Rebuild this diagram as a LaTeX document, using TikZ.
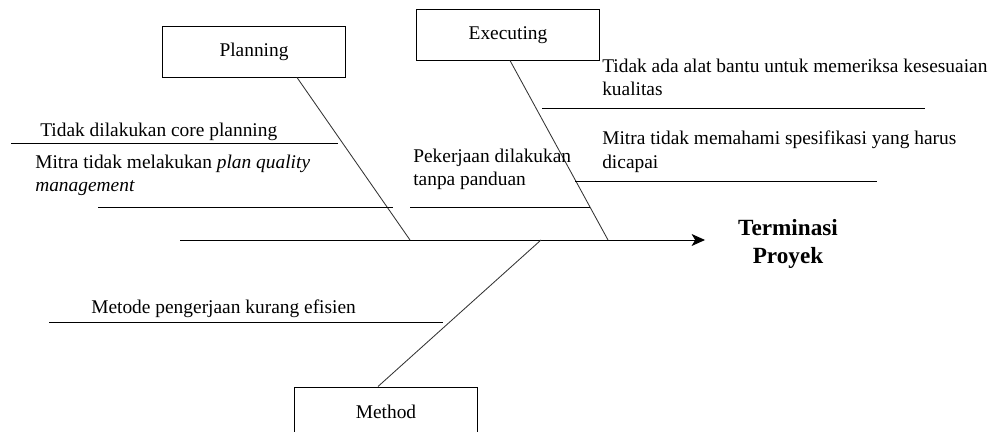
\documentclass[tikz,border=0pt]{standalone}
\usepackage{fontspec}
\setmainfont{Liberation Serif}
\usetikzlibrary{arrows.meta, calc}

\newcommand{\causefont}{\fontsize{13.8}{16.4}\selectfont}
\newcommand{\effectfont}{\fontsize{16.5}{19.9}\selectfont\bfseries}

\tikzset{
  catbox/.style={draw, line width=0.7pt, minimum width=4.55cm, minimum height=1.25cm, inner sep=0pt, font=\causefont},
  causetext/.style={anchor=north west, inner sep=0pt, align=left, font=\causefont},
  bone/.style={line width=0.7pt},
  rib/.style={line width=0.6pt, black!80},
}

\begin{document}
\begin{tikzpicture}[x=0.025cm, y=-0.025cm, >={Stealth[length=9.5pt, width=8.5pt, inset=2.5pt]}]

% Frame (pixel grid of the original)
\useasboundingbox (0,0) rectangle (993,432);

% Main spine
\coordinate (tail) at (180,240);
\coordinate (head) at (705,240);
\coordinate (pj) at (410,240);
\coordinate (ej) at (608,240);
\coordinate (mj) at (541,240);
\draw[bone, ->] (tail) -- (head);
\node[anchor=north, inner sep=0pt, align=center, font=\effectfont] (effect) at (788,219) {Terminasi\\Proyek};

% Planning
\node[catbox] (plan) at (254,52) {Planning};
\draw[rib] ($(plan.south)+(43,0)$) -- (pj);
\draw[bone] (11,143) -- (338,143);
\node[causetext] (p1) at (40,123) {Tidak dilakukan core planning};
\draw[bone] (98,207) -- (393,207);
\node[causetext] (p2) at (35,155) {Mitra tidak melakukan \textit{plan quality}\\\textit{management}};

% Executing
\node[catbox] (exec) at (508,35) {Executing};
\draw[rib] ($(exec.south)+(2,0)$) -- (ej);
\draw[bone] (542,108) -- (925,108);
\node[causetext] (e1) at (602,59) {Tidak ada alat bantu untuk memeriksa kesesuaian\\kualitas};
\draw[bone] (575,181) -- (877,181);
\node[causetext] (e2) at (602,131) {Mitra tidak memahami spesifikasi yang harus\\dicapai};
\draw[bone] (410,207) -- (590,207);
\node[causetext] (e3) at (413,149) {Pekerjaan dilakukan\\tanpa panduan};

% Method
\node[catbox] (meth) at (386,412) {Method};
\draw[rib] ($(meth.north)+(-8,0)$) -- (mj);
\draw[bone] (49,322) -- (443,322);
\node[causetext] (m1) at (91,300) {Metode pengerjaan kurang efisien};

\end{tikzpicture}
\end{document}
